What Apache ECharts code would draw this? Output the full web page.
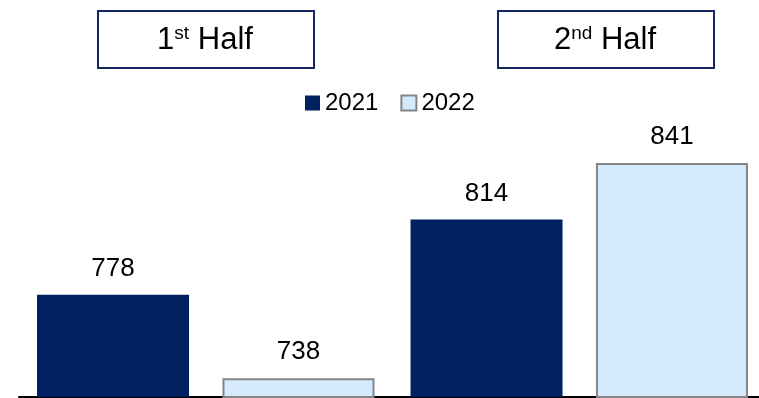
<!DOCTYPE html>
<html>
<head>
<meta charset="utf-8">
<style>
  html, body { margin: 0; padding: 0; background: #ffffff; }
  #chart { width: 759px; height: 398px; }
</style>
<script src="https://cdn.jsdelivr.net/npm/echarts@6/dist/echarts.min.js"></script>
</head>
<body>
<div id="chart"></div>
<script>
// Periods (one category per half year) and the header caption parts for each
const halves = ['1st Half', '2nd Half'];
const halfNumbers = ['1', '2'];
const halfSuffixes = ['st', 'nd'];
const halfWord = 'Half';

// Yearly series
const seriesNames = ['2021', '2022'];
const values2021 = [778, 814];
const values2022 = [738, 841];

const NAVY = '#002060';
const PALE = '#d6eafd';
const FONT = '"Liberation Sans", Arial, sans-serif';

const chart = echarts.init(document.getElementById('chart'));

// Header boxes above each half
const boxCenters = [205, 605];
const headerGraphics = [];
halves.forEach(function (h, i) {
  headerGraphics.push({
    type: 'rect',
    left: boxCenters[i] - 108, top: 10,
    shape: { width: 216, height: 57 },
    style: { fill: '#ffffff', stroke: '#112560', lineWidth: 2 }
  });
  headerGraphics.push({
    type: 'text',
    x: boxCenters[i], y: 40,
    style: {
      text: '{n|' + halfNumbers[i] + '}{s|' + halfSuffixes[i] + '}{n| ' + halfWord + '}',
      align: 'center',
      verticalAlign: 'middle',
      rich: {
        n: { fontSize: 31, fontFamily: FONT, fill: '#000000' },
        s: { fontSize: 19, fontFamily: FONT, fill: '#000000', verticalAlign: 'top' }
      }
    }
  });
});

const labelStyle = {
  show: true,
  position: 'top',
  distance: 13,
  fontSize: 26,
  fontFamily: FONT,
  color: '#000000'
};

chart.setOption({
  animation: false,
  textStyle: { fontFamily: FONT },
  legend: {
    data: seriesNames,
    left: 300,
    top: 86,
    icon: 'rect',
    itemWidth: 15,
    itemHeight: 15,
    itemGap: 22,
    textStyle: { fontSize: 24, fontFamily: FONT, color: '#000000', lineHeight: 24 }
  },
  grid: {
    left: 19, right: -7, top: 39.8, bottom: 1,
    containLabel: false,
    outerBoundsMode: 'none'
  },
  xAxis: {
    type: 'category',
    data: halves,
    axisLine: { show: true, lineStyle: { color: '#000000', width: 2 } },
    axisTick: { show: false },
    axisLabel: { show: false },
    splitLine: { show: false }
  },
  yAxis: {
    type: 'value',
    min: 729,
    max: 900,
    show: false
  },
  series: [
    {
      name: seriesNames[0],
      type: 'bar',
      data: values2021,
      barWidth: 152,
      barGap: '22%',
      itemStyle: { color: NAVY },
      label: labelStyle
    },
    {
      name: seriesNames[1],
      type: 'bar',
      data: values2022,
      barWidth: 152,
      barGap: '22%',
      itemStyle: { color: PALE, borderColor: '#858585', borderWidth: 2 },
      label: labelStyle
    }
  ],
  graphic: headerGraphics
});
</script>
</body>
</html>
